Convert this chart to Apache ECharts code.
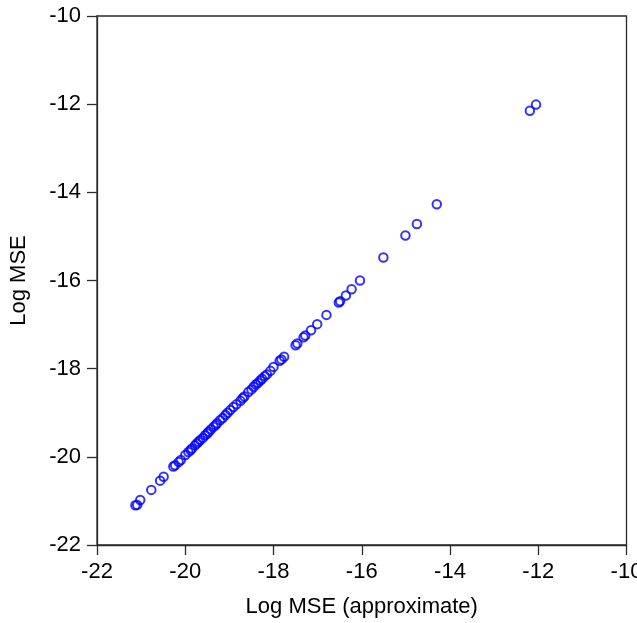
<!DOCTYPE html>
<html>
<head>
<meta charset="utf-8">
<title>Log MSE vs approximate Log MSE</title>
<script src="https://cdn.jsdelivr.net/npm/echarts@6/dist/echarts.min.js"></script>
<style>
  html, body { margin: 0; padding: 0; background: #ffffff; }
  #chart { width: 637px; height: 623px; }
</style>
</head>
<body>
<div id="chart"></div>
<script>
// Approximate log MSE (x) against the exact log MSE (y) for each run
var logMseApprox = [
  -21.13, -21.09, -21.02, -20.77, -20.57, -20.49, -20.27, -20.23, -20.15, -20.10,
  -20.00, -19.93, -19.88, -19.85, -19.78, -19.74, -19.70, -19.66, -19.60, -19.55,
  -19.50, -19.47, -19.42, -19.36, -19.31, -19.28, -19.21, -19.15, -19.09, -19.04,
  -18.98, -18.91, -18.84, -18.75, -18.70, -18.66, -18.57, -18.50, -18.45, -18.40,
  -18.35, -18.30, -18.26, -18.20, -18.15, -18.07, -18.00, -17.86, -17.82, -17.76,
  -17.50, -17.46, -17.32, -17.28, -17.15, -17.01, -16.80, -16.52, -16.49, -16.36,
  -16.23, -16.04, -15.51, -15.01, -14.75, -14.30, -12.19, -12.05
];
var logMse = [
  -21.10, -21.09, -20.98, -20.75, -20.54, -20.45, -20.22, -20.19, -20.12, -20.07,
  -19.96, -19.89, -19.85, -19.81, -19.74, -19.70, -19.66, -19.62, -19.57, -19.51,
  -19.47, -19.43, -19.38, -19.32, -19.28, -19.24, -19.17, -19.12, -19.05, -19.00,
  -18.94, -18.87, -18.81, -18.73, -18.67, -18.63, -18.53, -18.47, -18.41, -18.36,
  -18.32, -18.27, -18.23, -18.17, -18.13, -18.05, -17.96, -17.82, -17.79, -17.73,
  -17.47, -17.43, -17.29, -17.25, -17.13, -16.99, -16.78, -16.50, -16.47, -16.34,
  -16.20, -16.00, -15.48, -14.98, -14.72, -14.27, -12.15, -12.01
];
var xAxisTitle = 'Log MSE (approximate)';
var yAxisTitle = 'Log MSE';

var points = logMseApprox.map(function (x, i) { return [x, logMse[i]]; });

var font = '"Liberation Sans", Arial, Helvetica, sans-serif';
var ink = '#2b2b2b';

function axisCommon() {
  return {
    type: 'value',
    min: -22,
    max: -10,
    interval: 2,
    nameLocation: 'middle',
    nameTextStyle: { fontFamily: font, fontSize: 22, color: '#000' },
    axisLine: { show: true, onZero: false, lineStyle: { color: ink, width: 1.3 } },
    axisTick: { show: true, inside: false, length: 10, lineStyle: { color: ink, width: 1.3 } },
    axisLabel: { fontFamily: font, fontSize: 22, color: '#000', margin: 16 },
    splitLine: { show: false }
  };
}

var xAxis = axisCommon();
xAxis.name = xAxisTitle;
xAxis.nameGap = 51;

var yAxis = axisCommon();
yAxis.name = yAxisTitle;
yAxis.nameGap = 67;

var chart = echarts.init(document.getElementById('chart'), null, { renderer: 'canvas' });
chart.setOption({
  backgroundColor: '#ffffff',
  animation: false,
  grid: {
    left: 97, right: 10.5, top: 16, bottom: 78,
    containLabel: false,
    outerBoundsMode: 'none',
    show: true, borderColor: ink, borderWidth: 1.3, backgroundColor: 'transparent'
  },
  xAxis: xAxis,
  yAxis: yAxis,
  series: [{
    type: 'scatter',
    data: points,
    symbol: 'circle',
    symbolSize: 8.5,
    itemStyle: { color: 'rgba(0,0,0,0)', borderColor: '#0000ff', borderWidth: 2 }
  }]
});
</script>
</body>
</html>
